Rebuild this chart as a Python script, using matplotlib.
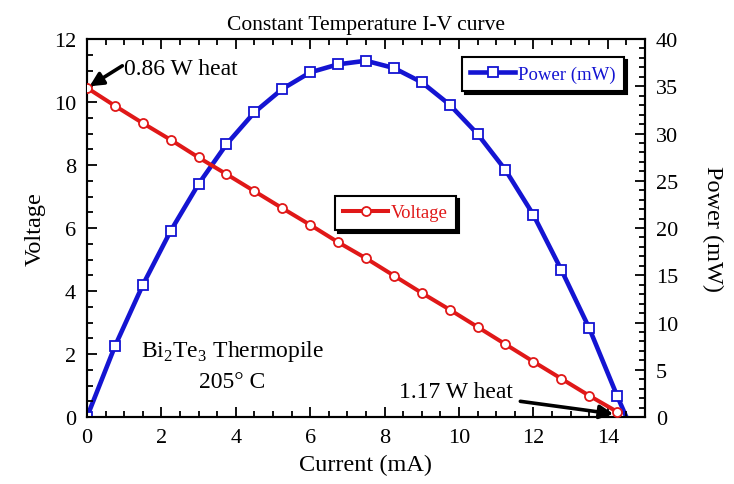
import matplotlib
matplotlib.use("Agg")
import matplotlib.pyplot as plt
from matplotlib.ticker import MultipleLocator

current = [0, 0.75, 1.5, 2.25, 3.0, 3.75, 4.5, 5.25, 6.0, 6.75, 7.5,
           8.25, 9.0, 9.75, 10.5, 11.25, 12.0, 12.75, 13.5, 14.25]
voltage = [10.45, 9.88, 9.33, 8.80, 8.24, 7.71, 7.17, 6.63, 6.10, 5.55, 5.04,
           4.49, 3.94, 3.41, 2.86, 2.31, 1.76, 1.22, 0.68, 0.17]
power = [0, 7.48, 13.97, 19.7, 24.66, 28.86, 32.24, 34.71, 36.47, 37.32, 37.7,
         36.93, 35.42, 33.05, 29.95, 26.14, 21.4, 15.59, 9.42, 2.26]
power_end_current = [14.25, 14.5]
power_end = [2.26, 0]

plt.rcParams['font.family'] = ['Liberation Serif', 'DejaVu Serif']
plt.rcParams['mathtext.fontset'] = 'custom'
plt.rcParams['mathtext.rm'] = 'Liberation Serif'

BLUE = '#1414d2'
RED = '#e01818'

fig = plt.figure(figsize=(7.34, 4.85), dpi=100)
ax = fig.add_axes([0.1185, 0.138, 0.7602, 0.7795])
ax2 = ax.twinx()

lv, = ax.plot(current, voltage, color=RED, lw=2.9, marker='o', ms=6.5,
              mfc='white', mec=RED, mew=1.3, zorder=3, label='Voltage')
ax2.plot(power_end_current, power_end, color=BLUE, lw=3.3, zorder=2)
lp, = ax2.plot(current, power, color=BLUE, lw=3.3, marker='s', ms=6.5,
               mfc='white', mec=BLUE, mew=1.3, zorder=3, label='Power (mW)')
ax.set_zorder(ax2.get_zorder() + 1)
ax.patch.set_visible(False)

ax.set_xlim(0, 15)
ax.set_ylim(0, 12)
ax2.set_ylim(0, 40)
ax.set_xticks([0, 2, 4, 6, 8, 10, 12, 14])
ax.xaxis.set_minor_locator(MultipleLocator(0.5))
ax.yaxis.set_major_locator(MultipleLocator(2))
ax.yaxis.set_minor_locator(MultipleLocator(0.5))
ax2.yaxis.set_major_locator(MultipleLocator(5))
ax2.yaxis.set_minor_locator(MultipleLocator(1))

for a in (ax, ax2):
    for s in a.spines.values():
        s.set_linewidth(1.5)
ax.tick_params(which='both', direction='in', top=True, labelsize=16, width=1.3, pad=8)
ax.tick_params(which='major', length=7)
ax.tick_params(which='minor', length=4)
ax2.tick_params(which='both', direction='in', labelsize=16, width=1.3, pad=8)
ax2.tick_params(which='major', length=7)
ax2.tick_params(which='minor', length=4)

ax.set_xlabel('Current (mA)', fontsize=17.5, labelpad=5)
ax.set_ylabel('Voltage', fontsize=17.5, labelpad=6)
ax2.set_ylabel('Power (mW)', fontsize=17.5, rotation=270, labelpad=32)
ax.set_title('Constant Temperature I-V curve', fontsize=15.5, pad=7)

shadow = {'color': 'black', 'alpha': 1, 'ox': 2, 'oy': -2}
leg1 = ax.legend(handles=[lp], loc='upper left', bbox_to_anchor=(0.672, 0.952),
                 fontsize=13.5, frameon=True, fancybox=False, borderpad=0.45,
                 handlelength=2.4, handletextpad=0.15, borderaxespad=0,
                 shadow=shadow)
leg1.get_frame().set_edgecolor('black')
leg1.get_frame().set_linewidth(1.5)
for t in leg1.get_texts():
    t.set_color(BLUE)
ax.add_artist(leg1)

leg2 = ax.legend(handles=[lv], loc='upper left', bbox_to_anchor=(0.444, 0.585),
                 fontsize=13.5, frameon=True, fancybox=False, borderpad=0.45,
                 handlelength=2.4, handletextpad=0.15, borderaxespad=0,
                 shadow=shadow)
leg2.get_frame().set_edgecolor('black')
leg2.get_frame().set_linewidth(1.5)
for t in leg2.get_texts():
    t.set_color(RED)

arrow = dict(arrowstyle='-|>', color='black', lw=2.6, mutation_scale=20,
             shrinkA=0, shrinkB=0)
ax.text(1.0, 11.05, '0.86 W heat', fontsize=17, ha='left', va='center')
ax.annotate('', xy=(0.07, 10.5), xytext=(0.95, 11.15), arrowprops=arrow)
ax.text(11.45, 0.8, '1.17 W heat', fontsize=17, ha='right', va='center')
ax.annotate('', xy=(14.15, 0.1), xytext=(11.65, 0.5), arrowprops=arrow)

ax.text(3.9, 2.1, r'Bi$_2$Te$_3$ Thermopile', fontsize=17, ha='center', va='center')
ax.text(3.9, 1.12, '205° C', fontsize=17, ha='center', va='center')

fig.savefig('out.png', dpi=100)
